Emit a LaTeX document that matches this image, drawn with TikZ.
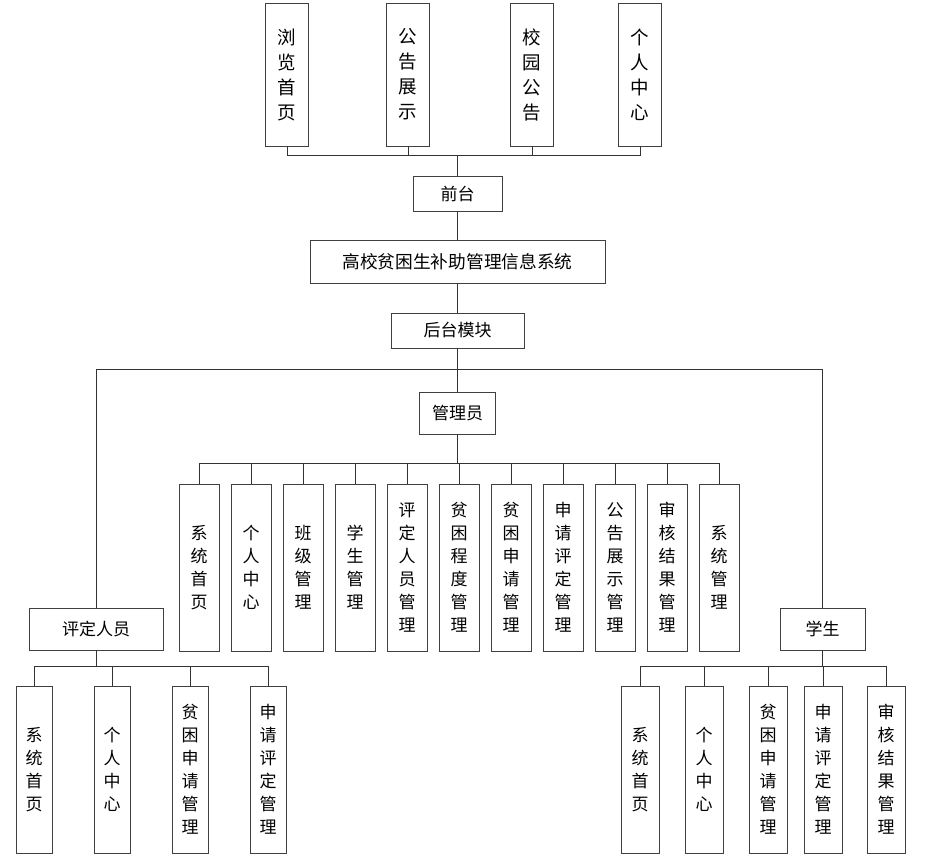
\documentclass[tikz,border=0pt]{standalone}
\usepackage{fontspec}
\setmainfont{Noto Sans CJK SC}
\begin{document}
\begin{tikzpicture}[x=1pt,y=-1pt,line width=0.9pt,
    every node/.style={draw=black!75,fill=white,inner sep=0pt,align=center,
        font=\fontsize{17}{23}\selectfont},
    hbox/.style={minimum height=42pt},
    topbox/.style={minimum width=43pt,minimum height=143pt,font=\fontsize{18.5}{25}\selectfont},
    subbox/.style={minimum width=40pt,minimum height=167pt}]
    \useasboundingbox (0,0) rectangle (932,864);
    % front end
    \node[topbox] (t1) at (287,74.5) {浏\\览\\首\\页};
    \node[topbox] (t2) at (408,74.5) {公\\告\\展\\示};
    \node[topbox] (t3) at (532,74.5) {校\\园\\公\\告};
    \node[topbox] (t4) at (640,74.5) {个\\人\\中\\心};
    \node[minimum width=89pt,minimum height=35pt] (qt) at (457.5,193.5) {前台};
    \node[minimum width=295pt,minimum height=43pt,font=\fontsize{17.7}{23}\selectfont] (sys) at (457.5,261.5) {高校贫困生补助管理信息系统};
    \node[minimum width=133pt,minimum height=35pt] (ht) at (457.5,330.5) {后台模块};
    \draw[black!80] (qt.north) -- ++(0,-20) coordinate (tbus);
    \foreach \n in {t1,t2,t3,t4}
        \draw[black!80] (\n.south) |- (tbus);
    \draw[black!80] (qt.south) -- (sys.north);
    \draw[black!80] (sys.south) -- (ht.north);
    % back end roles
    \node[hbox,minimum width=76pt] (gly) at (457.5,413) {管理员};
    \node[hbox,minimum width=134pt] (pd) at (96,629) {评定人员};
    \node[hbox,minimum width=85pt] (xs) at (822.5,629) {学生};
    \draw[black!80] (ht.south) -- ++(0,21) coordinate (hbus) -- (gly.north);
    \draw[black!80] (pd.north) |- (hbus) -| (xs.north);
    % admin
    \draw[black!80] (gly.south) -- ++(0,29) coordinate (gbus);
    \foreach \t [count=\i] in {系\\统\\首\\页,个\\人\\中\\心,班\\级\\管\\理,学\\生\\管\\理,
        评\\定\\人\\员\\管\\理,贫\\困\\程\\度\\管\\理,贫\\困\\申\\请\\管\\理,申\\请\\评\\定\\管\\理,
        公\\告\\展\\示\\管\\理,审\\核\\结\\果\\管\\理,系\\统\\管\\理}{
        \node[subbox] (a\i) at ({199+52*(\i-1)},567.5) {\t};
        \draw[black!80] (a\i.north) |- (gbus);
    }
    % raters
    \draw[black!80] (pd.south) -- ++(0,16) coordinate (pbus);
    \foreach \t/\x [count=\i] in {系\\统\\首\\页/34,个\\人\\中\\心/112,
        贫\\困\\申\\请\\管\\理/190,申\\请\\评\\定\\管\\理/268}{
        \node[subbox,minimum width=36pt] (p\i) at (\x,769.5) {\t};
        \draw[black!80] (p\i.north) |- (pbus);
    }
    % students
    \draw[black!80] (xs.south) -- ++(0,16) coordinate (sbus);
    \foreach \t/\x [count=\i] in {系\\统\\首\\页/640,个\\人\\中\\心/704,
        贫\\困\\申\\请\\管\\理/768,申\\请\\评\\定\\管\\理/823,审\\核\\结\\果\\管\\理/886}{
        \node[subbox,minimum width=38pt] (s\i) at (\x,769.5) {\t};
        \draw[black!80] (s\i.north) |- (sbus);
    }
\end{tikzpicture}
\end{document}
